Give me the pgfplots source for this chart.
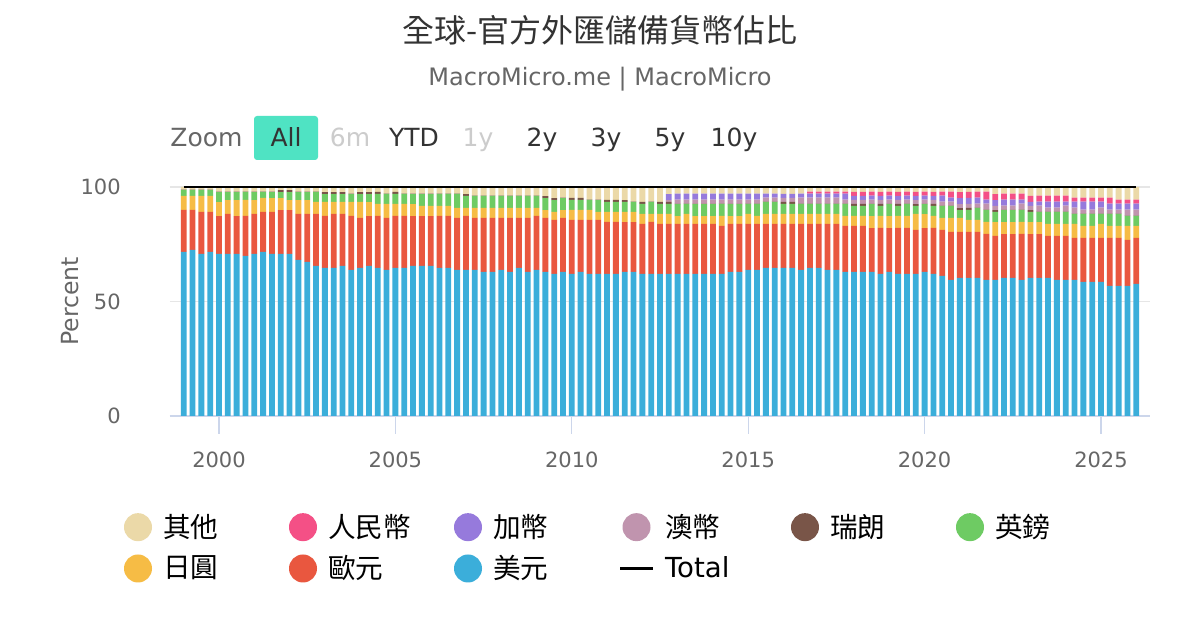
\documentclass[border=0pt]{standalone}
\usepackage{fontspec}
\setmainfont{DejaVu Sans}
\newfontfamily\cjk{Noto Sans CJK TC}
\usepackage{pgfplots}
\usepackage{pgfplotstable}
\pgfplotsset{compat=1.18}
\definecolor{cUSD}{HTML}{3BAEDA}
\definecolor{cEUR}{HTML}{E9573F}
\definecolor{cJPY}{HTML}{F6BC45}
\definecolor{cGBP}{HTML}{6ECB63}
\definecolor{cCHF}{HTML}{795548}
\definecolor{cAUD}{HTML}{C094AE}
\definecolor{cCAD}{HTML}{967ADC}
\definecolor{cCNY}{HTML}{F45086}
\definecolor{cOTH}{HTML}{EBD9A8}
\definecolor{c333}{HTML}{333333}
\definecolor{c666}{HTML}{666666}
\definecolor{cCCC}{HTML}{CCCCCC}
\definecolor{axisline}{HTML}{CCD6EB}
\definecolor{gridc}{HTML}{E6E6E6}
\definecolor{btn}{HTML}{4FE3C3}
\pgfplotsset{
  circ legend/.style={legend image code/.code={\fill[##1,/tikz/.cd] (7pt,0pt) circle (7pt);}},
  total legend/.style={legend image code/.code={\draw[##1,/tikz/.cd] (-1pt,0pt) -- (15pt,0pt);}},
}
\pgfplotstableread{
x usd eur jpy gbp chf aud cad cny oth tot
1999.00 71.62 18.34 6.11 2.62 0.15 0 0 0 1.16 100
1999.25 72.49 17.47 6.11 2.62 0.15 0 0 0 1.16 100
1999.50 70.74 18.34 6.99 2.62 0.15 0 0 0 1.16 100
1999.75 71.62 17.47 6.99 2.62 0.15 0 0 0 1.15 100
2000.00 70.74 16.59 6.11 4.37 0.15 0 0 0 2.04 100
2000.25 70.74 17.47 6.11 3.49 0.15 0 0 0 2.04 100
2000.50 70.74 16.59 6.99 3.49 0.15 0 0 0 2.04 100
2000.75 69.87 17.47 6.99 3.49 0.15 0 0 0 2.03 100
2001.00 70.74 17.47 6.11 3.49 0.15 0 0 0 2.04 100
2001.25 71.62 17.47 6.11 2.62 0.15 0 0 0 2.03 100
2001.50 70.74 18.34 6.11 2.62 0.15 0 0 0 2.04 100
2001.75 70.74 19.21 5.24 2.62 0.87 0 0 0 1.32 100
2002.00 70.74 19.21 4.37 3.49 0.87 0 0 0 1.32 100
2002.25 68.12 20.09 6.11 3.49 0.15 0 0 0 2.04 100
2002.50 67.25 20.96 6.11 3.49 0.15 0 0 0 2.04 100
2002.75 65.50 22.71 5.24 4.37 0.15 0 0 0 2.03 100
2003.00 64.63 22.71 6.11 3.49 0.87 0 0 0 2.19 100
2003.25 64.63 23.58 5.24 3.49 0.87 0 0 0 2.19 100
2003.50 65.50 22.71 5.24 3.49 0.87 0 0 0 2.19 100
2003.75 63.76 23.58 6.11 3.49 0.15 0 0 0 2.91 100
2004.00 64.63 21.83 6.99 3.49 0.87 0 0 0 2.19 100
2004.25 65.50 21.83 6.11 3.49 0.87 0 0 0 2.20 100
2004.50 64.63 22.71 5.24 4.37 0.87 0 0 0 2.18 100
2004.75 63.76 22.71 6.11 4.37 0.15 0 0 0 2.90 100
2005.00 64.63 22.71 5.24 4.37 0.87 0 0 0 2.18 100
2005.25 64.63 22.71 5.24 4.37 0.15 0 0 0 2.90 100
2005.50 65.50 21.83 5.24 4.37 0.15 0 0 0 2.91 100
2005.75 65.50 21.83 4.37 5.24 0.15 0 0 0 2.91 100
2006.00 65.50 21.83 4.37 5.24 0.15 0 0 0 2.91 100
2006.25 64.63 22.71 4.37 5.24 0.15 0 0 0 2.90 100
2006.50 64.63 22.71 4.37 5.24 0.15 0 0 0 2.90 100
2006.75 63.76 22.71 4.37 6.11 0.15 0 0 0 2.90 100
2007.00 63.76 23.58 3.49 5.24 0.87 0 0 0 3.06 100
2007.25 63.76 22.71 4.37 5.24 0.15 0 0 0 3.77 100
2007.50 62.88 23.58 4.37 5.24 0.15 0 0 0 3.78 100
2007.75 62.88 23.58 4.37 5.24 0.15 0 0 0 3.78 100
2008.00 63.76 22.71 4.37 5.24 0.15 0 0 0 3.77 100
2008.25 62.88 23.58 4.37 5.24 0.15 0 0 0 3.78 100
2008.50 64.63 21.83 4.37 5.24 0.15 0 0 0 3.78 100
2008.75 62.88 23.58 4.37 5.24 0.15 0 0 0 3.78 100
2009.00 63.76 23.58 3.49 5.24 0.15 0 0 0 3.78 100
2009.25 62.88 23.58 3.49 5.24 0.87 0 0 0 3.94 100
2009.50 62.01 23.58 3.49 5.24 0.87 0 0 0 4.81 100
2009.75 62.88 23.58 3.49 5.24 0.15 0 0 0 4.66 100
2010.00 62.01 23.58 4.37 4.37 0.87 0 0 0 4.80 100
2010.25 62.88 22.71 4.37 4.37 0.87 0 0 0 4.80 100
2010.50 62.01 23.58 4.37 4.37 0.15 0 0 0 5.52 100
2010.75 62.01 23.58 3.49 5.24 0.15 0 0 0 5.53 100
2011.00 62.01 22.71 4.37 4.37 0.87 0 0 0 5.67 100
2011.25 62.01 22.71 4.37 4.37 0.87 0 0 0 5.67 100
2011.50 62.88 21.83 4.37 4.37 0.87 0 0 0 5.68 100
2011.75 62.88 21.83 4.37 4.37 0.15 0 0 0 6.40 100
2012.00 62.01 21.83 4.37 4.37 0.87 0 0 0 6.55 100
2012.25 62.01 22.71 3.49 5.24 0.15 0 0 0 6.40 100
2012.50 62.01 21.83 4.37 4.37 0.87 0 0 0 6.55 100
2012.75 62.01 21.83 4.37 4.37 0.87 0.87 2.62 0 3.06 100
2013.00 62.01 21.83 3.49 5.24 0.15 1.75 2.62 0 2.91 100
2013.25 62.01 21.83 4.37 4.37 0.15 1.75 2.62 0 2.90 100
2013.50 62.01 21.83 3.49 5.24 0.15 1.75 2.62 0 2.91 100
2013.75 62.01 21.83 3.49 5.24 0.15 1.75 2.62 0 2.91 100
2014.00 62.01 21.83 3.49 5.24 0.15 1.75 2.62 0 2.91 100
2014.25 62.01 20.96 4.37 5.24 0.15 1.75 2.62 0 2.90 100
2014.50 62.88 20.96 3.49 5.24 0.15 1.75 2.62 0 2.91 100
2014.75 62.88 20.96 3.49 5.24 0.15 1.75 2.62 0 2.91 100
2015.00 63.76 20.09 4.37 4.37 0.15 1.75 2.62 0 2.89 100
2015.25 63.76 20.09 3.49 5.24 0.15 1.75 2.62 0 2.90 100
2015.50 64.63 19.21 4.37 5.24 0.15 1.75 1.75 0 2.90 100
2015.75 64.63 19.21 4.37 5.24 0.15 1.75 1.75 0 2.90 100
2016.00 64.63 19.21 4.37 4.37 0.87 1.75 1.75 0 3.05 100
2016.25 64.63 19.21 4.37 4.37 0.87 1.75 1.75 0 3.05 100
2016.50 63.76 20.09 4.37 4.37 0.15 2.62 1.75 0 2.89 100
2016.75 64.63 19.21 4.37 4.37 0.15 2.62 1.75 0.87 2.03 100
2017.00 64.63 19.21 4.37 4.37 0.15 2.62 1.75 0.87 2.03 100
2017.25 63.76 20.09 4.37 4.37 0.15 2.62 1.75 0.87 2.02 100
2017.50 63.76 20.09 4.37 4.37 0.15 2.62 1.75 0.87 2.02 100
2017.75 62.88 20.09 4.37 5.24 0.15 1.75 2.62 0.87 2.03 100
2018.00 62.88 20.09 4.37 4.37 0.87 1.75 1.75 1.75 2.17 100
2018.25 62.88 20.09 4.37 4.37 0.87 1.75 1.75 1.75 2.17 100
2018.50 62.88 19.21 5.24 5.24 0.15 1.75 1.75 1.75 2.03 100
2018.75 62.01 20.09 5.24 4.37 0.87 1.75 1.75 1.75 2.17 100
2019.00 62.88 19.21 5.24 5.24 0.15 1.75 1.75 1.75 2.03 100
2019.25 62.01 20.09 5.24 4.37 0.87 1.75 1.75 1.75 2.17 100
2019.50 62.01 20.09 5.24 5.24 0.15 1.75 1.75 1.75 2.02 100
2019.75 62.01 19.21 6.99 3.49 0.87 1.75 1.75 1.75 2.18 100
2020.00 62.88 19.21 6.11 4.37 0.15 1.75 1.75 1.75 2.03 100
2020.25 62.01 20.09 5.24 4.37 0.87 1.75 1.75 1.75 2.17 100
2020.50 61.14 20.09 5.24 5.24 0.15 1.75 2.62 1.75 2.02 100
2020.75 59.39 20.96 6.11 5.24 0.15 1.75 1.75 2.62 2.03 100
2021.00 60.26 20.09 6.11 3.49 0.87 1.75 2.62 2.62 2.19 100
2021.25 60.26 20.09 5.24 4.37 0.87 1.75 2.62 2.62 2.18 100
2021.50 60.26 20.09 5.24 5.24 0.15 1.75 2.62 2.62 2.03 100
2021.75 59.39 20.09 5.24 5.24 0.15 2.62 1.75 3.49 2.03 100
2022.00 59.39 19.21 6.11 4.37 0.87 1.75 2.62 2.62 3.06 100
2022.25 60.26 19.21 5.24 5.24 0.15 1.75 2.62 2.62 2.91 100
2022.50 60.26 19.21 5.24 5.24 0.15 1.75 2.62 2.62 2.91 100
2022.75 59.39 20.09 5.24 5.24 0.15 2.62 1.75 2.62 2.90 100
2023.00 60.26 19.21 5.24 4.37 0.87 1.75 1.75 2.62 3.93 100
2023.25 60.26 19.21 5.24 4.37 0.15 2.62 1.75 2.62 3.78 100
2023.50 60.26 18.34 5.24 5.24 0.15 1.75 2.62 2.62 3.78 100
2023.75 59.39 19.21 5.24 5.24 0.15 1.75 2.62 2.62 3.78 100
2024.00 59.39 19.21 5.24 5.24 0.15 2.62 1.75 2.62 3.78 100
2024.25 59.39 18.34 6.11 4.37 0.15 2.62 2.62 1.75 4.65 100
2024.50 58.52 19.21 5.24 5.24 0.15 1.75 3.49 1.75 4.65 100
2024.75 58.52 19.21 5.24 5.24 0.15 1.75 3.49 1.75 4.65 100
2025.00 58.52 19.21 6.11 4.37 0.15 2.62 2.62 1.75 4.65 100
2025.25 56.77 20.96 5.24 5.24 0.15 1.75 2.62 2.62 4.65 100
2025.50 56.77 20.96 5.24 5.24 0.15 1.75 2.62 1.75 5.52 100
2025.75 56.77 20.09 6.11 4.37 0.15 2.62 2.62 1.75 5.52 100
2026.00 57.64 20.09 5.24 4.37 0.15 2.62 2.62 1.75 5.52 100
}\datatable
\newcommand{\lt}[1]{\makebox[61pt][l]{#1}}
\begin{document}
\begin{tikzpicture}
\useasboundingbox (0pt,0pt) rectangle (600pt,315pt);
\fill[white] (0pt,0pt) rectangle (600pt,315pt);
\node[anchor=base, inner sep=0pt, font=\cjk\fontsize{16pt}{19pt}\selectfont, text=c333] at (300pt,293.5pt) {全球-官方外匯儲備貨幣佔比};
\node[anchor=base, inner sep=0pt, font=\fontsize{12pt}{14pt}\selectfont, text=c666] at (300pt,272pt) {MacroMicro.me | MacroMicro};
\fill[btn, rounded corners=1.5pt] (127pt,235pt) rectangle (159pt,257pt);
\begin{scope}[every node/.style={anchor=base, inner sep=0pt, font=\fontsize{12.5pt}{15pt}\selectfont}]
\node[anchor=base west, text=c666] at (85pt,241.7pt) {Zoom};
\node[text=c333] at (143pt,241.7pt) {All};
\node[text=cCCC] at (175pt,241.7pt) {6m};
\node[text=c333] at (207pt,241.7pt) {YTD};
\node[text=cCCC] at (239pt,241.7pt) {1y};
\node[text=c333] at (271pt,241.7pt) {2y};
\node[text=c333] at (303pt,241.7pt) {3y};
\node[text=c333] at (335pt,241.7pt) {5y};
\node[text=c333] at (367pt,241.7pt) {10y};
\end{scope}
\begin{axis}[
  at={(85pt,107pt)}, anchor=south west,
  scale only axis, width=490pt, height=114.5pt,
  xmin=1998.611, xmax=2026.389, ymin=0, ymax=100,
  ybar stacked, bar width=0.165,
  axis lines*=left,
  x axis line style={color=axisline, line width=0.6pt},
  y axis line style={draw=none},
  xtick={2000,2005,...,2025},
  ytick={0,50,100},
  tick align=outside,
  major tick length=9pt,
  xtick style={color=axisline, line width=0.6pt},
  ytick style={draw=none},
  ymajorgrids, grid style={color=gridc, line width=0.6pt},
  /pgf/number format/assume math mode=true,
  /pgf/number format/1000 sep={},
  tick label style={font=\fontsize{10.5pt}{12pt}\selectfont, text=c666},
  yticklabel style={anchor=east, inner sep=0pt, xshift=-15.5pt},
  xticklabel style={anchor=base, inner sep=0pt, yshift=-17pt},
  ylabel={Percent},
  every axis y label/.style={at={(axis description cs:-0.102,0.5)}, rotate=90, anchor=center, font=\fontsize{11.8pt}{14pt}\selectfont, text=c666},
  legend columns=6,
  reverse legend,
  legend cell align=left,
  legend style={at={(axis description cs:-0.04694,-0.4105)}, anchor=north west,
    draw=none, fill=none, inner sep=0pt, outer sep=0pt,
    column sep=0pt, row sep=3.5pt,
    /tikz/every odd column/.append style={column sep=3.5pt},
    font=\fontsize{13.8pt}{16pt}\selectfont, text=black},
]
\addlegendimage{total legend, black, line width=1.5pt}
\addlegendentry{\lt{Total}}
\addplot[fill=cUSD, draw=none, circ legend] table[x=x, y=usd]{\datatable};
\addlegendentry{\lt{\cjk 美元}}
\addplot[fill=cEUR, draw=none, circ legend] table[x=x, y=eur]{\datatable};
\addlegendentry{\lt{\cjk 歐元}}
\addplot[fill=cJPY, draw=none, circ legend] table[x=x, y=jpy]{\datatable};
\addlegendentry{\lt{\cjk 日圓}}
\addplot[fill=cGBP, draw=none, circ legend] table[x=x, y=gbp]{\datatable};
\addlegendentry{\lt{\cjk 英鎊}}
\addplot[fill=cCHF, draw=none, circ legend] table[x=x, y=chf]{\datatable};
\addlegendentry{\lt{\cjk 瑞朗}}
\addplot[fill=cAUD, draw=none, circ legend] table[x=x, y=aud]{\datatable};
\addlegendentry{\lt{\cjk 澳幣}}
\addplot[fill=cCAD, draw=none, circ legend] table[x=x, y=cad]{\datatable};
\addlegendentry{\lt{\cjk 加幣}}
\addplot[fill=cCNY, draw=none, circ legend] table[x=x, y=cny]{\datatable};
\addlegendentry{\lt{\cjk 人民幣}}
\addplot[fill=cOTH, draw=none, circ legend] table[x=x, y=oth]{\datatable};
\addlegendentry{\lt{\cjk 其他}}
\end{axis}
\begin{axis}[
  at={(85pt,107pt)}, anchor=south west,
  scale only axis, width=490pt, height=114.5pt,
  xmin=1998.611, xmax=2026.389, ymin=0, ymax=100,
  hide axis, clip=false,
]
\addplot[black, line width=1.2pt, mark=none] table[x=x, y=tot]{\datatable};
\end{axis}
\end{tikzpicture}
\end{document}
